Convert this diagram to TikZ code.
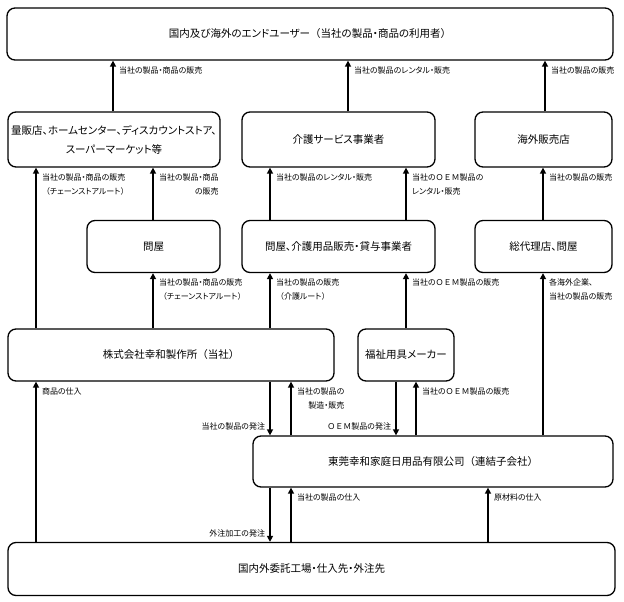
\documentclass[tikz,border=0pt]{standalone}
\usepackage{fontspec}
\setmainfont{Noto Sans CJK JP}[RawFeature=+palt]
\newfontfamily\jpfull{Noto Sans CJK JP}
\newcommand\fullw[1]{{\jpfull #1}}
\usetikzlibrary{arrows.meta}
\begin{document}
\begin{tikzpicture}[x=1pt,y=-1pt,
  box/.style={draw, line width=1.3pt, rounded corners=8pt, inner sep=0pt,
    font=\fontsize{10.5}{19}\selectfont, align=center},
  arr/.style={line width=2pt, -{Triangle[width=6pt,length=6pt]}},
  lbl/.style={inner sep=0pt, font=\fontsize{8}{14}\selectfont},
  upl/.style={lbl, anchor=north west, xshift=5pt, yshift=-5pt},
  dnl/.style={lbl, anchor=south east, xshift=-4pt, yshift=4pt}]
\useasboundingbox (0,0) rectangle (624,602);
% boxes
\node[box, minimum width=606pt, minimum height=52pt] (top) at (310,34) {国内及び海外のエンドユーザー\fullw{（}当社の製品・商品の利用者\fullw{）}};
\node[box, minimum width=212pt, minimum height=55pt] (ryo) at (114,139.5) {量販店、ホームセンター、ディスカウントストア、\\スーパーマーケット等};
\node[box, minimum width=193pt, minimum height=55pt] (kaigo) at (338.5,139.5) {介護サービス事業者};
\node[box, minimum width=137pt, minimum height=55pt] (kaigai) at (543.5,139.5) {海外販売店};
\node[box, minimum width=133pt, minimum height=52pt] (ton) at (153.5,246.5) {問屋};
\node[box, minimum width=193pt, minimum height=52pt] (tonkaigo) at (338.5,246.5) {問屋、介護用品販売・貸与事業者};
\node[box, minimum width=137pt, minimum height=52pt] (sodairi) at (543.5,246.5) {総代理店、問屋};
\node[box, minimum width=326pt, minimum height=52pt] (kowa) at (171,355) {株式会社幸和製作所\fullw{（}当社\fullw{）}};
\node[box, minimum width=96pt, minimum height=52pt] (fukushi) at (406,355) {福祉用具メーカー};
\node[box, minimum width=360pt, minimum height=51pt] (dg) at (433,461.5) {東莞幸和家庭日用品有限公司\fullw{（}連結子会社\fullw{）}};
\node[box, minimum width=607pt, minimum height=53pt] (bottom) at (311.5,569) {国内外委託工場・仕入先・外注先};
% x positions
\coordinate (x36) at (36,0);
\coordinate (x113) at (113,0);
\coordinate (x153) at (153,0);
\coordinate (x270) at (270,0);
\coordinate (x291) at (291,0);
\coordinate (x348) at (348,0);
\coordinate (x396) at (396,0);
\coordinate (x406) at (406,0);
\coordinate (x416) at (416,0);
\coordinate (x488) at (488,0);
\coordinate (x543) at (543,0);
\coordinate (x545) at (545,0);
% row 2 -> top
\draw[arr] (ryo.north -| x113) -- (top.south -| x113) node[upl] {当社の製品・商品の販売};
\draw[arr] (kaigo.north -| x348) -- (top.south -| x348) node[upl] {当社の製品のレンタル・販売};
\draw[arr] (kaigai.north -| x545) -- (top.south -| x545) node[upl] {当社の製品の販売};
% row 3 -> row 2
\draw[arr] (kowa.north -| x36) -- (ryo.south -| x36) node[upl, align=left] {当社の製品・商品の販売\\\fullw{（}チェーンストアルート\fullw{）}};
\draw[arr] (ton.north -| x153) -- (ryo.south -| x153) node[upl, align=right] {当社の製品・商品\\の販売};
\draw[arr] (tonkaigo.north -| x270) -- (kaigo.south -| x270) node[upl] {当社の製品のレンタル・販売};
\draw[arr] (tonkaigo.north -| x406) -- (kaigo.south -| x406) node[upl, align=left] {当社の\fullw{ＯＥＭ}製品の\\レンタル・販売};
\draw[arr] (sodairi.north -| x543) -- (kaigai.south -| x543) node[upl] {当社の製品の販売};
% row 4 -> row 3
\draw[arr] (kowa.north -| x153) -- (ton.south -| x153) node[upl, align=left] {当社の製品・商品の販売\\\fullw{（}チェーンストアルート\fullw{）}};
\draw[arr] (kowa.north -| x270) -- (tonkaigo.south -| x270) node[upl, align=left] {当社の製品の販売\\\fullw{（}介護ルート\fullw{）}};
\draw[arr] (fukushi.north -| x406) -- (tonkaigo.south -| x406) node[upl] {当社の\fullw{ＯＥＭ}製品の販売};
\draw[arr] (dg.north -| x543) -- (sodairi.south -| x543) node[upl, align=left] {各海外企業、\\当社の製品の販売};
% between row 4 and dg
\draw[arr] (bottom.north -| x36) -- (kowa.south -| x36) node[upl] {商品の仕入};
\draw[arr] (kowa.south -| x270) -- (dg.north -| x270) node[dnl] {当社の製品の発注};
\draw[arr] (dg.north -| x291) -- (kowa.south -| x291) node[upl, align=right] {当社の製品の\\製造・販売};
\draw[arr] (fukushi.south -| x396) -- (dg.north -| x396) node[dnl] {\fullw{ＯＥＭ}製品の発注};
\draw[arr] (dg.north -| x416) -- (fukushi.south -| x416) node[upl] {当社の\fullw{ＯＥＭ}製品の販売};
% between dg and bottom
\draw[arr] (dg.south -| x270) -- (bottom.north -| x270) node[dnl] {外注加工の発注};
\draw[arr] (bottom.north -| x291) -- (dg.south -| x291) node[upl] {当社の製品の仕入};
\draw[arr] (bottom.north -| x488) -- (dg.south -| x488) node[upl] {原材料の仕入};
\end{tikzpicture}
\end{document}
